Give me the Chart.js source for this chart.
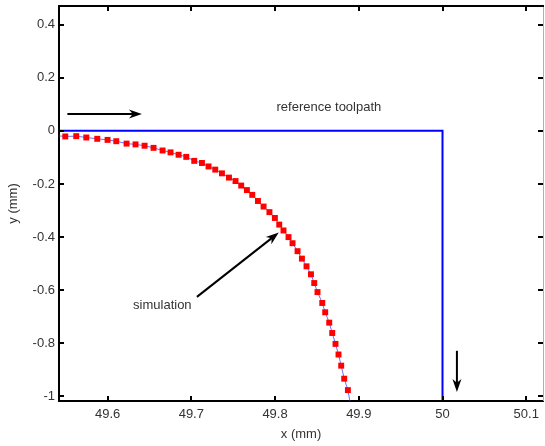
<!DOCTYPE html>
<html>
<head>
<meta charset="utf-8">
<script src="https://cdn.jsdelivr.net/npm/chart.js@4.4.0/dist/chart.umd.min.js"></script>
<style>
html, body { margin: 0; padding: 0; background: #fff; }
canvas { display: block; }
</style>
</head>
<body>
<canvas id="toolpath-chart" width="545" height="446"></canvas>
<script>
// Axis ticks
const xTicks = [49.6, 49.7, 49.8, 49.9, 50, 50.1];
const yTicks = [0.4, 0.2, 0, -0.2, -0.4, -0.6, -0.8, -1];

// Reference toolpath (sharp corner at x = 50)
const refX = [49.54, 50, 50];
const refY = [0, 0, -1.1];

// Simulated path (markers)
const simX = [49.5495, 49.5626, 49.5746, 49.5877, 49.600, 49.6104, 49.6227, 49.6334, 49.6442, 49.6549,
    49.6657, 49.6752, 49.6848, 49.694, 49.7035, 49.7127, 49.7206, 49.7286, 49.7366, 49.745,
    49.7528, 49.7596, 49.7664, 49.7728, 49.7796, 49.7863, 49.7933, 49.7998, 49.805, 49.8101,
    49.8161, 49.8209, 49.8269, 49.8321, 49.8376, 49.8429, 49.8468, 49.8507, 49.8564, 49.8599,
    49.8647, 49.8683, 49.8722, 49.8758, 49.879, 49.8826, 49.887];
const simY = [-0.021, -0.020, -0.025, -0.030, -0.034, -0.039, -0.048, -0.051, -0.056, -0.064,
    -0.074, -0.081, -0.090, -0.098, -0.113, -0.121, -0.134, -0.146, -0.160, -0.176,
    -0.189, -0.206, -0.223, -0.241, -0.264, -0.285, -0.306, -0.328, -0.353, -0.375,
    -0.400, -0.423, -0.453, -0.481, -0.510, -0.540, -0.573, -0.607, -0.648, -0.683,
    -0.722, -0.761, -0.802, -0.842, -0.884, -0.933, -0.976];

// the thin line under the markers runs a little past them at both ends
const simLineX = [49.542].concat(simX, [49.8895]);
const simLineY = [-0.019].concat(simY, [-1.02]);

// annotations, in data units
const arrows = [
    { from: [49.552, 0.063], to: [49.641, 0.063] },
    { from: [49.7067, -0.625], to: [49.8045, -0.383] },
    { from: [50.0172, -0.828], to: [50.0172, -0.983] }
];
const notes = [
    { text: 'reference toolpath', at: [49.8643, 0.0875] },
    { text: 'simulation', at: [49.6654, -0.657] }
];

const FONT = '"Liberation Sans", Arial, sans-serif';
const TEXT = '#333333';

function toPoints(xs, ys) {
    return xs.map((x, i) => ({ x: x, y: ys[i] }));
}

function drawArrow(ctx, x1, y1, x2, y2) {
    const len = Math.hypot(x2 - x1, y2 - y1);
    const ux = (x2 - x1) / len, uy = (y2 - y1) / len;
    const nx = -uy, ny = ux;
    const L = 13, W = 4.5;
    ctx.beginPath();
    ctx.moveTo(x1, y1);
    ctx.lineTo(x2 - ux * L * 0.6, y2 - uy * L * 0.6);
    ctx.stroke();
    ctx.beginPath();
    ctx.moveTo(x2, y2);
    ctx.lineTo(x2 - ux * L + nx * W, y2 - uy * L + ny * W);
    ctx.lineTo(x2 - ux * L * 0.7, y2 - uy * L * 0.7);
    ctx.lineTo(x2 - ux * L - nx * W, y2 - uy * L - ny * W);
    ctx.closePath();
    ctx.fill();
}

// MATLAB-like box: inward ticks on all four sides, plus arrows and text labels
const decorPlugin = {
    id: 'decor',
    afterDatasetsDraw(chart) {
        const ctx = chart.ctx;
        const { left, right, top, bottom } = chart.chartArea;
        const xs = chart.scales.x, ys = chart.scales.y;
        ctx.save();

        // right and top frame
        ctx.strokeStyle = '#b0b0b0';
        ctx.lineWidth = 1;
        ctx.beginPath();
        ctx.moveTo(right + 0.5, top);
        ctx.lineTo(right + 0.5, bottom);
        ctx.stroke();
        ctx.strokeStyle = '#000';
        ctx.lineWidth = 2;
        ctx.beginPath();
        ctx.moveTo(left - 1, top);
        ctx.lineTo(right + 1, top);
        ctx.stroke();

        // inward ticks
        ctx.lineWidth = 2;
        ctx.beginPath();
        xTicks.forEach(v => {
            const px = Math.round(xs.getPixelForValue(v));
            ctx.moveTo(px, bottom);
            ctx.lineTo(px, bottom - 5);
            ctx.moveTo(px, top);
            ctx.lineTo(px, top + 5);
        });
        yTicks.forEach(v => {
            const py = Math.round(ys.getPixelForValue(v));
            ctx.moveTo(left, py);
            ctx.lineTo(left + 5, py);
            ctx.moveTo(right, py);
            ctx.lineTo(right - 5, py);
        });
        ctx.stroke();

        // arrows
        ctx.strokeStyle = '#000';
        ctx.fillStyle = '#000';
        ctx.lineWidth = 2;
        arrows.forEach(a => {
            drawArrow(ctx,
                xs.getPixelForValue(a.from[0]), ys.getPixelForValue(a.from[1]),
                xs.getPixelForValue(a.to[0]), ys.getPixelForValue(a.to[1]));
        });

        // text notes
        ctx.fillStyle = TEXT;
        ctx.font = '13px ' + FONT;
        ctx.textAlign = 'center';
        ctx.textBaseline = 'middle';
        notes.forEach(n => {
            ctx.fillText(n.text, xs.getPixelForValue(n.at[0]), ys.getPixelForValue(n.at[1]));
        });
        ctx.restore();
    }
};

const chart = new Chart(document.getElementById('toolpath-chart'), {
    type: 'scatter',
    data: {
        datasets: [
            {
                label: 'simulation line',
                data: toPoints(simLineX, simLineY),
                showLine: true,
                borderColor: 'rgba(60, 60, 255, 0.75)',
                borderWidth: 1,
                pointRadius: 0,
                order: 2
            },
            {
                label: 'simulation',
                data: toPoints(simX, simY),
                showLine: false,
                pointStyle: 'rect',
                pointRadius: 4.2,
                pointBackgroundColor: '#ff0000',
                pointBorderWidth: 0,
                order: 1
            },
            {
                label: 'reference toolpath',
                data: toPoints(refX, refY),
                showLine: true,
                borderColor: '#0000ff',
                borderWidth: 2,
                pointRadius: 0,
                order: 3
            }
        ]
    },
    options: {
        responsive: false,
        animation: false,
        layout: { autoPadding: false, padding: { top: 6, right: 2, left: 0, bottom: 0 } },
        plugins: {
            legend: { display: false },
            tooltip: { enabled: false }
        },
        scales: {
            x: {
                type: 'linear',
                min: 49.542,
                max: 50.12,
                afterFit(scale) {
                    scale.height = 45;
                    scale.paddingLeft = 0;
                    scale.paddingRight = 0;
                },
                afterBuildTicks(scale) { scale.ticks = xTicks.map(v => ({ value: v })); },
                grid: { display: false, drawTicks: false },
                border: { display: true, color: '#000', width: 2 },
                ticks: {
                    padding: 6,
                    color: TEXT,
                    font: { family: FONT, size: 13 },
                    callback: v => String(v)
                },
                title: {
                    display: true,
                    text: 'x (mm)',
                    color: TEXT,
                    font: { family: FONT, size: 13 },
                    padding: { top: 0, bottom: 4 }
                }
            },
            y: {
                type: 'linear',
                min: -1.017,
                max: 0.47,
                afterFit(scale) {
                    scale.width = 59;
                    scale.paddingTop = 0;
                    scale.paddingBottom = 0;
                },
                afterBuildTicks(scale) { scale.ticks = yTicks.map(v => ({ value: v })); },
                grid: { display: false, drawTicks: false },
                border: { display: true, color: '#000', width: 2 },
                ticks: {
                    padding: 4,
                    color: TEXT,
                    font: { family: FONT, size: 13 },
                    callback: v => String(v)
                },
                title: {
                    display: true,
                    text: 'y (mm)',
                    color: TEXT,
                    font: { family: FONT, size: 13 },
                    padding: { top: 6, bottom: 0 }
                }
            }
        }
    },
    plugins: [decorPlugin]
});
</script>
</body>
</html>
